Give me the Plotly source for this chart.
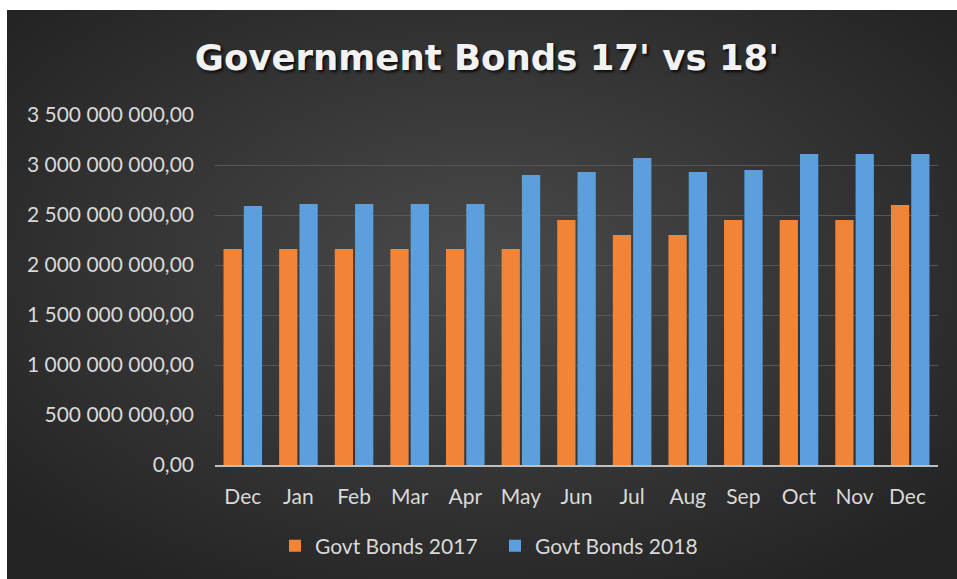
import plotly.graph_objects as go

months = ["Dec", "Jan", "Feb", "Mar", "Apr", "May", "Jun", "Jul", "Aug", "Sep", "Oct", "Nov", "Dec "]
bonds_2017 = [2.16e9, 2.16e9, 2.16e9, 2.16e9, 2.16e9, 2.16e9, 2.45e9, 2.30e9, 2.30e9, 2.45e9, 2.45e9, 2.45e9, 2.60e9]
bonds_2018 = [2.59e9, 2.61e9, 2.61e9, 2.61e9, 2.61e9, 2.90e9, 2.93e9, 3.07e9, 2.93e9, 2.95e9, 3.11e9, 3.11e9, 3.11e9]
y_ticks = [0, 5e8, 1e9, 1.5e9, 2e9, 2.5e9, 3e9, 3.5e9]

bg_svg = (
    "data:image/svg+xml;utf8,"
    "<svg xmlns='http://www.w3.org/2000/svg' width='950' height='569' preserveAspectRatio='none'>"
    "<defs><radialGradient id='g' cx='50%' cy='45%' r='65%'>"
    "<stop offset='0%' stop-color='%234a4a4a'/>"
    "<stop offset='100%' stop-color='%23242424'/>"
    "</radialGradient></defs>"
    "<rect width='950' height='569' fill='url(%23g)'/></svg>"
)

fig = go.Figure()
fig.add_trace(go.Bar(x=months, y=bonds_2017, name="Govt Bonds 2017",
                     marker=dict(color="#F08538", line=dict(width=0))))
fig.add_trace(go.Bar(x=months, y=bonds_2018, name="Govt Bonds 2018",
                     marker=dict(color="#5B9FDD", line=dict(width=0))))

W, H = 957, 579
FS = 21
fig.update_layout(
    width=W, height=H,
    paper_bgcolor="white",
    plot_bgcolor="rgba(0,0,0,0)",
    separators=", ",
    barmode="group",
    bargap=0.27,
    bargroupgap=0.1,
    margin=dict(l=215, r=19, t=115, b=114),
    font=dict(family="Lato", size=FS, color="#d9d9d9"),
    title=dict(
        text="<b>Government Bonds 17' vs 18'</b>",
        x=487 / W, xanchor="center",
        y=1 - 58 / H, yanchor="middle",
        font=dict(family="DejaVu Sans", size=35.5, color="#f2f2f2",
                  shadow="2px 2px 3px rgba(0,0,0,0.8)"),
    ),
    xaxis=dict(
        showgrid=False,
        showline=True, linecolor="#bfbfbf", linewidth=2,
        ticks="", tickfont=dict(size=FS, color="#d9d9d9"),
        ticklabelstandoff=12,
    ),
    yaxis=dict(
        range=[0, 3.5e9],
        tickvals=y_ticks,
        tickformat=",.2f",
        showgrid=True, gridcolor="#565656", gridwidth=1,
        zeroline=False, showline=False, ticks="",
        tickfont=dict(size=FS, color="#d9d9d9"),
        ticklabelstandoff=20,
    ),
    legend=dict(
        orientation="h",
        xref="container", x=275 / W, xanchor="left",
        y=1 - 546 / H, yanchor="middle",
        yref="container",
        font=dict(size=FS, color="#d9d9d9"),
        bgcolor="rgba(0,0,0,0)",
        itemwidth=30,
        entrywidth=175, entrywidthmode="pixels",
    ),
    images=[dict(
        source=bg_svg, xref="paper", yref="paper",
        x=(7 - 215) / (W - 215 - 19), y=1 + (115 - 10) / (H - 115 - 114),
        sizex=950 / (W - 215 - 19), sizey=569 / (H - 115 - 114),
        xanchor="left", yanchor="top", sizing="stretch", layer="below",
    )],
)

fig.write_html("out.html")
